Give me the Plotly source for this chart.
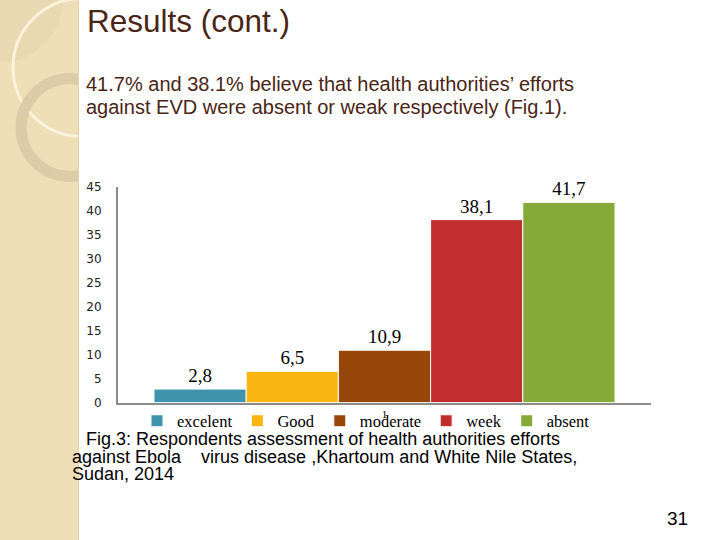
import plotly.graph_objects as go

# ---- data ----
categories = ["1"]
series_names = ["excelent", "Good", "moderate", "week", "absent"]
series_values = [2.8, 6.5, 10.9, 38.1, 41.7]
value_labels = ["2,8", "6,5", "10,9", "38,1", "41,7"]
series_colors = ["#3F93AC", "#FBB614", "#97470A", "#C12E2E", "#87A939"]
y_ticks = [0, 5, 10, 15, 20, 25, 30, 35, 40, 45]

W, H = 720, 540


def px(x):
    return x / W


def py(y):
    # map a target pixel row of the final picture to paper coordinates
    spec = (y - 7.5) / 0.974
    return 1 - spec / H


fig = go.Figure()
for name, val, lab, col in zip(series_names, series_values, value_labels, series_colors):
    fig.add_trace(go.Bar(
        x=categories, y=[val], name=name, text=[lab],
        textposition="outside", cliponaxis=False,
        textfont=dict(family="Liberation Serif", size=19, color="black"),
        marker=dict(color=col, line=dict(color="white", width=1)),
    ))

shapes = [
    # left decorative strip
    dict(type="rect", xref="paper", yref="paper", x0=0, x1=px(78), y0=-0.05, y1=1.05,
         fillcolor="#EEDFB9", line_width=0, layer="below"),
    dict(type="circle", xref="paper", yref="paper", x0=px(-63), x1=px(63), y0=py(63), y1=py(-63),
         fillcolor="#E6D6B0", opacity=0.7, line_width=0, layer="below"),
    dict(type="circle", xref="paper", yref="paper", x0=px(13), x1=px(151), y0=py(137), y1=py(-1),
         fillcolor="rgba(0,0,0,0)", line=dict(color="#FBF3DB", width=3), layer="below"),
    dict(type="circle", xref="paper", yref="paper", x0=px(21), x1=px(119), y0=py(177), y1=py(79),
         fillcolor="rgba(0,0,0,0)", line=dict(color="#DCCDA8", width=11), layer="below"),
    dict(type="rect", xref="paper", yref="paper", x0=px(79), x1=px(170), y0=py(200), y1=1.05,
         fillcolor="white", line_width=0, layer="below"),
    dict(type="line", xref="paper", yref="paper", x0=px(78.5), x1=px(78.5), y0=-0.05, y1=1.05,
         line=dict(color="#E4D3A8", width=1), layer="below"),
]


def note(text, x, y, size, color, family="Liberation Sans", xanchor="left"):
    return dict(text=text, x=px(x), y=py(y), xref="paper", yref="paper",
                xanchor=xanchor, yanchor="middle", showarrow=False, align="left",
                font=dict(family=family, size=size, color=color))


brown = "#4A2516"
annotations = [
    note("Results (cont.)", 85, 21, 31.5, brown),
    note("41.7% and 38.1% believe that health authorities\u2019 efforts", 84, 84, 20, brown),
    note("against EVD were absent or weak respectively (Fig.1).", 84, 107, 20, brown),
    note("Fig.3: Respondents assessment of health authorities efforts", 84, 439, 18, "black"),
    note("against Ebola    virus disease ,Khartoum and White Nile States,", 70, 457, 18, "black"),
    note("Sudan, 2014", 70, 474, 18, "black"),
    note("31", 677, 519, 19, "black", xanchor="center"),
]

fig.update_layout(
    width=W, height=H,
    margin=dict(l=0, r=0, t=0, b=0),
    paper_bgcolor="white", plot_bgcolor="white",
    barmode="group", bargap=0.135, bargroupgap=0,
    showlegend=True,
    legend=dict(orientation="h", x=px(366), xanchor="center", y=py(404), yanchor="top",
                font=dict(family="Liberation Serif", size=16.5, color="black"),
                bgcolor="rgba(0,0,0,0)", itemwidth=30, tracegroupgap=0),
    xaxis=dict(domain=[px(118), px(651)], showline=True, linecolor="#8C8C8C", linewidth=2,
               showgrid=False, ticks="", tickfont=dict(family="Liberation Serif", size=11, color="black"),
               ticklabelstandoff=0, fixedrange=True),
    yaxis=dict(domain=[py(403), py(187)], range=[0, 45], tickvals=y_ticks,
               showline=True, linecolor="#8C8C8C", linewidth=2, showgrid=False, zeroline=False,
               ticks="", ticklabelstandoff=12, fixedrange=True,
               tickfont=dict(family="DejaVu Sans", size=12, color="#222222")),
    shapes=shapes, annotations=annotations,
)

fig.write_html("out.html", config={"displayModeBar": False},
               post_script="document.body.style.margin='0';")
